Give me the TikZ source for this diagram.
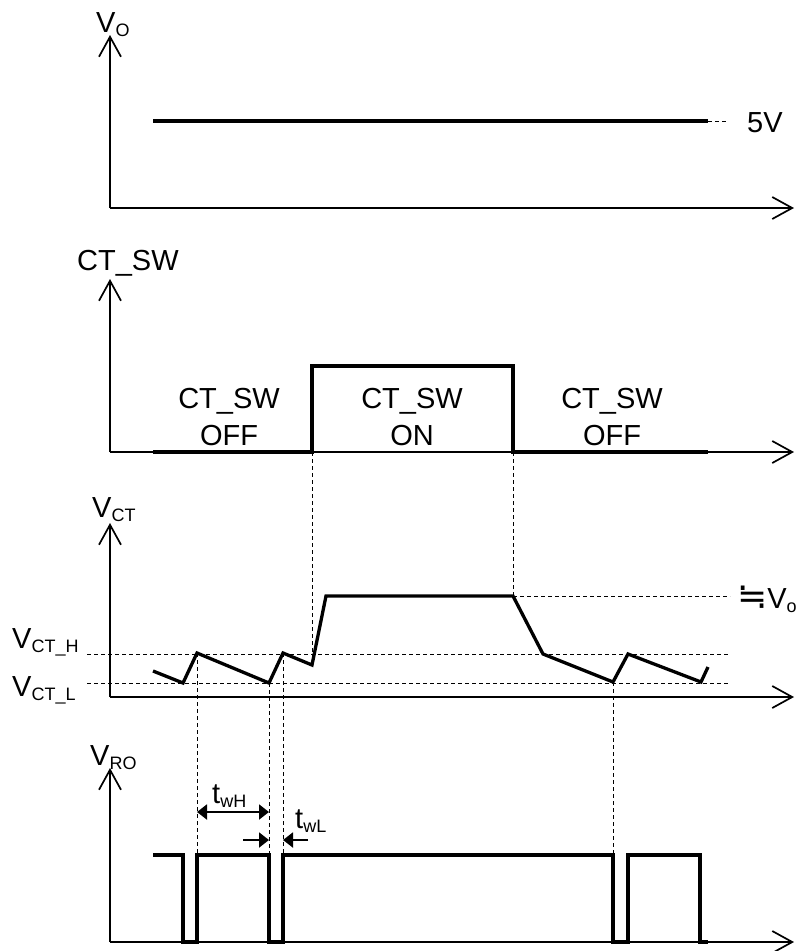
\documentclass[tikz,border=0pt]{standalone}
\usepackage{fontspec}
\setmainfont{Liberation Sans}
\newfontfamily\symfont{DejaVu Sans}
\usetikzlibrary{arrows.meta}
\newcommand{\sbs}[1]{\raisebox{-4pt}{\fontsize{18}{18}\selectfont #1}}

\begin{document}
\begin{tikzpicture}[x=1pt, y=-1pt,
  axis/.style={line width=1.7pt, -{Straight Barb[length=20pt,width=22pt,line width=1.7pt]}},
  sig/.style={line width=3.3pt},
  guide/.style={line width=0.8pt, dash pattern=on 4pt off 3pt},
  dim/.style={line width=2pt, -{Triangle[length=10pt,width=15pt]}},
  lbl/.style={anchor=base west, inner sep=0pt},
  txt/.style={anchor=base, inner sep=0pt}]
\fontsize{29}{31}\selectfont
\clip (0,0) rectangle (796,951);
% V_O
\draw[axis] (110,208) -- (110,35);
\draw[axis] (110,208) -- (794,208);
\draw[sig] (153,121) -- (708,121);
\draw[guide] (708,121) -- (728,121);
\node[lbl] at (96,32) {V\sbs{O}};
\node[lbl] at (747,132) {5V};
% CT_SW
\draw[axis] (110,452) -- (110,279);
\draw[axis] (110,452) -- (794,452);
\draw[sig] (153,452) -- (312,452) -- (312,366) -- (513,366) -- (513,452) -- (708,452);
\node[lbl] at (77,270) {CT\_SW};
\node[txt] at (229,408) {CT\_SW};
\node[txt] at (229,445) {OFF};
\node[txt] at (412,408) {CT\_SW};
\node[txt] at (412,445) {ON};
\node[txt] at (612,408) {CT\_SW};
\node[txt] at (612,445) {OFF};
% V_CT
\draw[axis] (110,697) -- (110,523);
\draw[axis] (110,697) -- (794,697);
\draw[guide] (87,654) -- (730,654); % V_CT_H
\draw[guide] (87,683) -- (730,683); % V_CT_L
\draw[guide] (513,596) -- (730,596);
\draw[guide] (312,452) -- (312,665);
\draw[guide] (513,452) -- (513,596);
\draw[sig] (153,671) -- (183,683) -- (197,653) -- (269,683) -- (283,653) -- (312,665)
  -- (326,596) -- (513,596) -- (543,654) -- (613,682) -- (628,654) -- (701,682) -- (708,667);
\node[lbl] at (92,517) {V\sbs{CT}};
\node[lbl] at (12,648) {V\sbs{CT\_H}};
\node[lbl] at (12,696) {V\sbs{CT\_L}};
\node[lbl] at (737,608) {{\symfont\fontsize{36}{36}\selectfont ≒}V\sbs{o}};
% V_RO
\draw[axis] (110,942) -- (110,768);
\draw[axis] (110,942) -- (794,942);
\draw[guide] (197,653) -- (197,855);
\draw[guide] (269,683) -- (269,855);
\draw[guide] (283,653) -- (283,855);
\draw[guide] (613,682) -- (613,855);
\draw[sig] (153,855) -- (183,855) -- (183,942) -- (197,942) -- (197,855) -- (269,855)
  -- (269,942) -- (283,942) -- (283,855) -- (613,855) -- (613,942) -- (628,942)
  -- (628,855) -- (700,855) -- (700,942) -- (708,942);
\node[lbl] at (90,765) {V\sbs{RO}};
% pulse widths
\draw[dim, {Triangle[length=10pt,width=15pt]}-{Triangle[length=10pt,width=15pt]}] (197,812) -- (269,812);
\draw[dim] (243,840) -- (269,840);
\draw[dim] (308,840) -- (283,840);
\node[lbl] at (212,803) {t\sbs{wH}};
\node[lbl] at (295,828) {t\sbs{wL}};
\end{tikzpicture}
\end{document}
